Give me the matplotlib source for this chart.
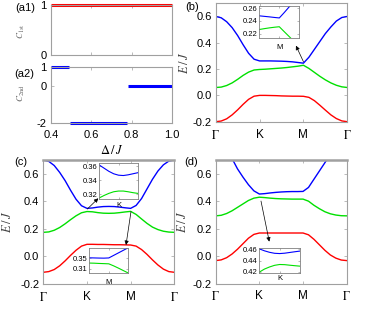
import matplotlib
matplotlib.use('Agg')
import matplotlib.pyplot as plt

plt.rcParams['font.family'] = ['Liberation Sans', 'DejaVu Sans']
plt.rcParams['mathtext.fontset'] = 'stix'
plt.rcParams['axes.unicode_minus'] = False

# --- data ---
# Chern numbers vs Delta/J, as flat segments
c1_start = [0.4]
c1_end = [1.0]
c1_val = [1]
c2_start = [0.4, 0.495, 0.78]
c2_end = [0.49, 0.775, 1.0]
c2_val = [1, -2, 0]

# path Gamma-K-M-Gamma, 0..3
kpath = [0.0, 0.125, 0.25, 0.375, 0.5, 0.625, 0.75, 0.875, 1.0,
         1.125, 1.25, 1.375, 1.5, 1.625, 1.75, 1.875, 2.0,
         2.125, 2.25, 2.375, 2.5, 2.625, 2.75, 2.875, 3.0]
ktick_pos = [0, 1, 2, 3]

b_red = [-0.200, -0.195, -0.178, -0.148, -0.110, -0.068, -0.030, -0.006, 0.000,
         0.000, -0.001, -0.002, -0.004, -0.005, -0.006, -0.006, -0.007,
         -0.015, -0.040, -0.075, -0.112, -0.148, -0.176, -0.194, -0.200]
b_green = [0.060, 0.063, 0.075, 0.095, 0.122, 0.152, 0.177, 0.193, 0.197,
           0.199, 0.202, 0.205, 0.208, 0.212, 0.217, 0.222, 0.229,
           0.205, 0.175, 0.145, 0.118, 0.095, 0.077, 0.065, 0.060]
b_blue = [0.600, 0.590, 0.560, 0.515, 0.455, 0.385, 0.320, 0.275, 0.262,
          0.262, 0.262, 0.261, 0.260, 0.258, 0.255, 0.250, 0.245,
          0.290, 0.350, 0.410, 0.470, 0.520, 0.565, 0.592, 0.600]

c_red = [-0.115, -0.110, -0.095, -0.068, -0.032, 0.008, 0.045, 0.075, 0.088,
         0.088, 0.087, 0.087, 0.086, 0.085, 0.085, 0.084, 0.083,
         0.075, 0.050, 0.015, -0.025, -0.062, -0.092, -0.110, -0.115]
c_green = [0.175, 0.178, 0.190, 0.210, 0.237, 0.267, 0.295, 0.317, 0.326,
           0.324, 0.318, 0.314, 0.313, 0.314, 0.318, 0.323, 0.327,
           0.305, 0.272, 0.240, 0.213, 0.195, 0.183, 0.177, 0.175]
c_blue = [0.700, 0.690, 0.660, 0.610, 0.550, 0.480, 0.415, 0.368, 0.349,
          0.352, 0.358, 0.362, 0.363, 0.362, 0.358, 0.353, 0.349,
          0.370, 0.420, 0.490, 0.560, 0.620, 0.665, 0.692, 0.700]

d_red = [-0.033, -0.028, -0.012, 0.015, 0.050, 0.090, 0.130, 0.158, 0.168,
         0.168, 0.168, 0.168, 0.168, 0.168, 0.168, 0.168, 0.168,
         0.155, 0.122, 0.082, 0.042, 0.008, -0.015, -0.029, -0.033]
d_green = [0.293, 0.297, 0.310, 0.330, 0.355, 0.380, 0.405, 0.422, 0.429,
           0.426, 0.422, 0.419, 0.417, 0.416, 0.415, 0.415, 0.415,
           0.400, 0.370, 0.345, 0.323, 0.308, 0.299, 0.294, 0.293]
d_blue = [0.900, 0.860, 0.790, 0.710, 0.635, 0.575, 0.520, 0.475, 0.452,
          0.455, 0.460, 0.464, 0.467, 0.469, 0.470, 0.470, 0.471,
          0.500, 0.560, 0.620, 0.680, 0.740, 0.800, 0.850, 0.870]

# zoomed insets, local k around the high-symmetry point (0)
kin = [-1.0, -0.75, -0.5, -0.25, 0.0, 0.25, 0.5, 0.75, 1.0]
ib_blue = [0.2478, 0.2470, 0.2462, 0.2453, 0.2445, 0.2530, 0.2620, 0.2710, 0.2800]
ib_green = [0.2265, 0.2278, 0.2290, 0.2300, 0.2308, 0.2230, 0.2153, 0.2075, 0.2000]
ic1_blue = [0.3620, 0.3575, 0.3530, 0.3495, 0.3475, 0.3470, 0.3480, 0.3495, 0.3510]
ic1_green = [0.3150, 0.3185, 0.3215, 0.3238, 0.3248, 0.3248, 0.3238, 0.3225, 0.3215]
ic2_blue = [0.3525, 0.3520, 0.3515, 0.3512, 0.3520, 0.3620, 0.3720, 0.3820, 0.3920]
ic2_green = [0.3320, 0.3315, 0.3305, 0.3298, 0.3290, 0.3210, 0.3120, 0.3025, 0.2930]
id_blue = [0.4610, 0.4575, 0.4548, 0.4530, 0.4525, 0.4532, 0.4545, 0.4558, 0.4570]
id_green = [0.4190, 0.4245, 0.4283, 0.4313, 0.4328, 0.4325, 0.4315, 0.4306, 0.4298]

RED, GREEN, BLUE = '#ff0000', '#00e000', '#0000ff'
GREY = '#a0a0a0'

W, H = 374, 310
fig = plt.figure(figsize=(3.74, 3.10), dpi=100)


def px_axes(x0, y0, x1, y1):
    return fig.add_axes([x0 / W, 1 - y1 / H, (x1 - x0) / W, (y1 - y0) / H])


def style(ax, size=8, pad=3):
    for s in ax.spines.values():
        s.set_color(GREY)
        s.set_linewidth(0.8)
    ax.tick_params(direction='in', length=2, width=0.5, color=GREY,
                   labelsize=size, pad=pad, top=True, right=True)


# --- (a1) ---
ax = px_axes(51, 5, 172, 55)
ax.hlines(c1_val, c1_start, c1_end, color=RED, lw=2.2, clip_on=False)
ax.set_xlim(0.4, 1.0)
ax.set_ylim(0, 1)
ax.set_yticks([0, 1])
ax.set_xticks([0.4, 0.6, 0.8, 1.0])
ax.set_xticklabels([])
style(ax)
fig.text(21 / W, 1 - 31 / H, r'$C_{\rm 1st}$', rotation=90, ha='center', va='center',
         fontsize=6.5, color='#666666')
fig.text(25 / W, 1 - 8 / H, '(a1)', ha='center', va='center', fontsize=8)

# --- (a2) ---
ax = px_axes(51, 67, 172, 122.7)
ax.hlines(c2_val, c2_start, c2_end, color=BLUE, lw=2.2, clip_on=False)
ax.set_xlim(0.4, 1.0)
ax.set_ylim(-2, 1)
ax.set_yticks([-2, 0, 1])
ax.set_yticklabels(['-2', '0', '1'])
ax.set_xticks([0.4, 0.6, 0.8, 1.0])
ax.set_xticklabels(['0.4', '0.6', '0.8', '1.0'])
style(ax)
ax.tick_params(axis='x', pad=5)
ax.set_xlabel(r'$\Delta\,/\,J$', fontsize=9, labelpad=3)
fig.text(21 / W, 1 - 93 / H, r'$C_{\rm 2nd}$', rotation=90, ha='center', va='center',
         fontsize=6.5, color='#666666')
fig.text(24 / W, 1 - 74 / H, '(a2)', ha='center', va='center', fontsize=8)


def band_panel(box, red, green, blue, label, lab_xy, ylab_x, thick_top=False):
    ax = px_axes(*box)
    ax.plot(kpath, red, color=RED, lw=1.0)
    ax.plot(kpath, green, color=GREEN, lw=1.0)
    ax.plot(kpath, blue, color=BLUE, lw=1.0)
    ax.set_xlim(0, 3)
    ax.set_ylim(-0.2, 0.7)
    ax.set_yticks([-0.2, 0.0, 0.2, 0.4, 0.6])
    ax.set_yticklabels(['-0.2', '0.0', '0.2', '0.4', '0.6'])
    ax.set_xticks(ktick_pos)
    ax.set_xticklabels([r'$\Gamma$', 'K', 'M', r'$\Gamma$'])
    style(ax)
    ax.tick_params(axis='x', labelsize=8.5, pad=5)
    if thick_top:
        ax.spines['top'].set_linewidth(1.8)
    fig.text(lab_xy[0] / W, 1 - lab_xy[1] / H, label, ha='center', va='center', fontsize=8)
    cy = (box[1] + box[3]) / 2
    fig.text(ylab_x / W, 1 - cy / H, r'$E\,/\,J$', rotation=90, ha='center', va='center',
             fontsize=9, color='#444444')
    return ax


def inset(box, blue, green, ylim, yticks, ylabels, xlabel, xpad=2):
    ax = px_axes(*box)
    ax.plot(kin, blue, color=BLUE, lw=0.8)
    ax.plot(kin, green, color=GREEN, lw=0.8)
    ax.set_xlim(-1, 1)
    ax.set_ylim(*ylim)
    ax.set_yticks(yticks)
    ax.set_yticklabels(ylabels)
    ax.set_xticks([0])
    ax.set_xticklabels([xlabel])
    for s in ax.spines.values():
        s.set_color('#808080')
        s.set_linewidth(0.6)
    ax.tick_params(direction='in', length=1.5, width=0.4, color='#808080',
                   labelsize=5.5, pad=1.5, top=True, right=True)
    ax.tick_params(axis='x', pad=xpad)
    ax.set_facecolor('white')
    return ax


def arrow(ax, tail, head):
    ax.annotate('', xy=head, xytext=tail,
                arrowprops=dict(arrowstyle='-|>', color='k', lw=0.5, mutation_scale=6,
                                shrinkA=0, shrinkB=0))


# --- (b) ---
ax_b = band_panel((215.7, 3.3, 347.3, 121.7), b_red, b_green, b_blue, '(b)', (192, 7), 184)
arrow(ax_b, (2.0, 0.256), (1.83, 0.378))
inset((259.3, 5.7, 299.3, 37.7), ib_blue, ib_green, (0.2137, 0.2636),
      [0.22, 0.24, 0.26], ['0.22', '0.24', '0.26'], 'M', xpad=4.5)

# --- (c) ---
ax_c = band_panel((43.3, 160, 174.3, 284), c_red, c_green, c_blue, '(c)', (21, 162), 8, True)
arrow(ax_c, (1.008, 0.344), (1.26, 0.422))
arrow(ax_c, (2.008, 0.325), (1.894, 0.083))
inset((99.3, 163.3, 137.7, 199.3), ic1_blue, ic1_green, (0.313, 0.3645),
      [0.32, 0.34, 0.36], ['0.32', '0.34', '0.36'], 'K')
inset((89.3, 247.7, 128.3, 273.3), ic2_blue, ic2_green, (0.292, 0.392),
      [0.31, 0.35], ['0.31', '0.35'], 'M', xpad=4)

# --- (d) ---
ax_d = band_panel((215.7, 160, 346.7, 283.5), d_red, d_green, d_blue, '(d)', (191, 162), 182, True)
arrow(ax_d, (1.037, 0.401), (1.227, 0.105))
inset((259.3, 248.3, 300, 272.7), id_blue, id_green, (0.418, 0.462),
      [0.42, 0.44, 0.46], ['0.42', '0.44', '0.46'], 'K')

plt.savefig('out.png', dpi=100)
